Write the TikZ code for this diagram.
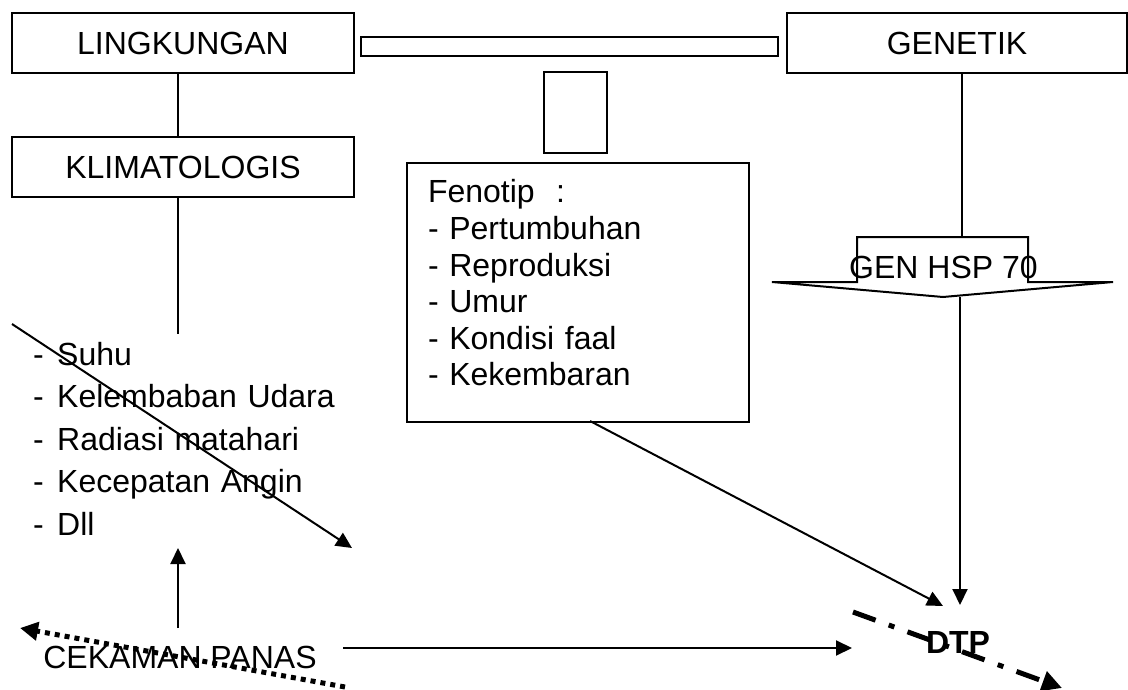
\documentclass[tikz,border=0pt]{standalone}
\usepackage{fontspec}
\setmainfont{Liberation Sans}
\usetikzlibrary{arrows.meta}

\tikzset{
  box/.style={draw, line width=2pt, inner sep=0pt, minimum width=342pt, minimum height=60pt},
  link/.style={line width=2pt},
  arr/.style={link, -{Triangle[length=16pt,width=15pt]}},
}
\newcommand{\butir}[1]{\makebox[24pt][l]{-}#1}

\begin{document}
\begin{tikzpicture}[x=1pt, y=-1pt, font=\fontsize{32}{38}\selectfont]
  \useasboundingbox (0,0) rectangle (1128,690);
  % kotak atas
  \node[box] (lingkungan) at (183,43) {LINGKUNGAN};
  \node[box] (klimatologis) at (183,167) {KLIMATOLOGIS};
  \node[box, minimum width=340pt] (genetik) at (957,43) {GENETIK};
  \node[box, minimum width=417pt, minimum height=19pt] (palang) at (569.5,46.5) {};
  \node[box, minimum width=63pt, minimum height=81pt] (kotakkecil) at (575.5,112.5) {};
  \node[box, anchor=north west, minimum width=0pt, minimum height=0pt, inner xsep=21pt,
        text width=300pt, text height=40pt, text depth=219pt, align=left,
        font=\fontsize{32}{36.6}\selectfont] (fenotip) at (406,162)
       {Fenotip~~:\\- Pertumbuhan\\- Reproduksi\\- Umur\\- Kondisi faal\\- Kekembaran};
  % daftar iklim
  \node[anchor=base west, inner sep=0pt, text width=330pt, align=left,
        font=\fontsize{32}{42.5}\selectfont] (iklim) at (33,365)
       {\butir{Suhu}\\\butir{Kelembaban Udara}\\\butir{Radiasi matahari}\\\butir{Kecepatan Angin}\\\butir{Dll}};
  % panah gen
  \draw[link] (857,237) -- (1028,237) -- (1028,282) -- (1113,282) -- (943,297)
              -- (772,282) -- (857,282) -- cycle;
  \node[anchor=base, inner sep=0pt] (hsp) at (943.5,278) {GEN HSP 70};
  \node[anchor=base, inner sep=0pt] (cekaman) at (180,668) {CEKAMAN PANAS};
  \node[anchor=base, inner sep=0pt, font=\fontsize{32}{38}\selectfont\bfseries] (dtp) at (958,653) {DTP};

  \coordinate (hspatas) at (962,237);
  \coordinate (hspujung) at (960,297);
  \coordinate (hspdtp) at (960,605);
  \coordinate (iklimatas) at (178,334);
  \coordinate (miringawal) at (12,324);
  \coordinate (miringakhir) at (352,548);
  \coordinate (panahatas) at (178,548);
  \coordinate (panahbawah) at (178,628);
  \coordinate (cekkanan) at (343,648);
  \coordinate (cekdtp) at (852,648);
  \coordinate (titikawal) at (345,687);
  \coordinate (titikakhir) at (20,628);
  \coordinate (garisawal) at (853,612);
  \coordinate (garisakhir) at (1062,688);
  \coordinate (fenobawah) at (590,421);
  \coordinate (fenodtp) at (943,606);

  \draw[link] ([xshift=-5pt]lingkungan.south) -- ([xshift=-5pt]klimatologis.north);
  \draw[link] ([xshift=-5pt]klimatologis.south) -- (iklimatas);
  \draw[link] (genetik.south -| hspatas) -- (hspatas);
  \draw[arr] (hspujung) -- (hspdtp);
  \draw[arr] (fenobawah) -- (fenodtp);
  \draw[arr] (miringawal) -- (miringakhir);
  \draw[arr] (panahbawah) -- (panahatas);
  \draw[arr] (cekkanan) -- (cekdtp);
  \draw[line width=5pt, dash pattern=on 5pt off 5pt, -{Triangle[length=18pt,width=18pt]}] (titikawal) -- (titikakhir); % titik-titik
  \draw[line width=5pt, dash pattern=on 24pt off 14pt on 6pt off 14pt, -{Triangle[length=20pt,width=20pt]}] (garisawal) -- (garisakhir); % garis-titik
\end{tikzpicture}
\end{document}
